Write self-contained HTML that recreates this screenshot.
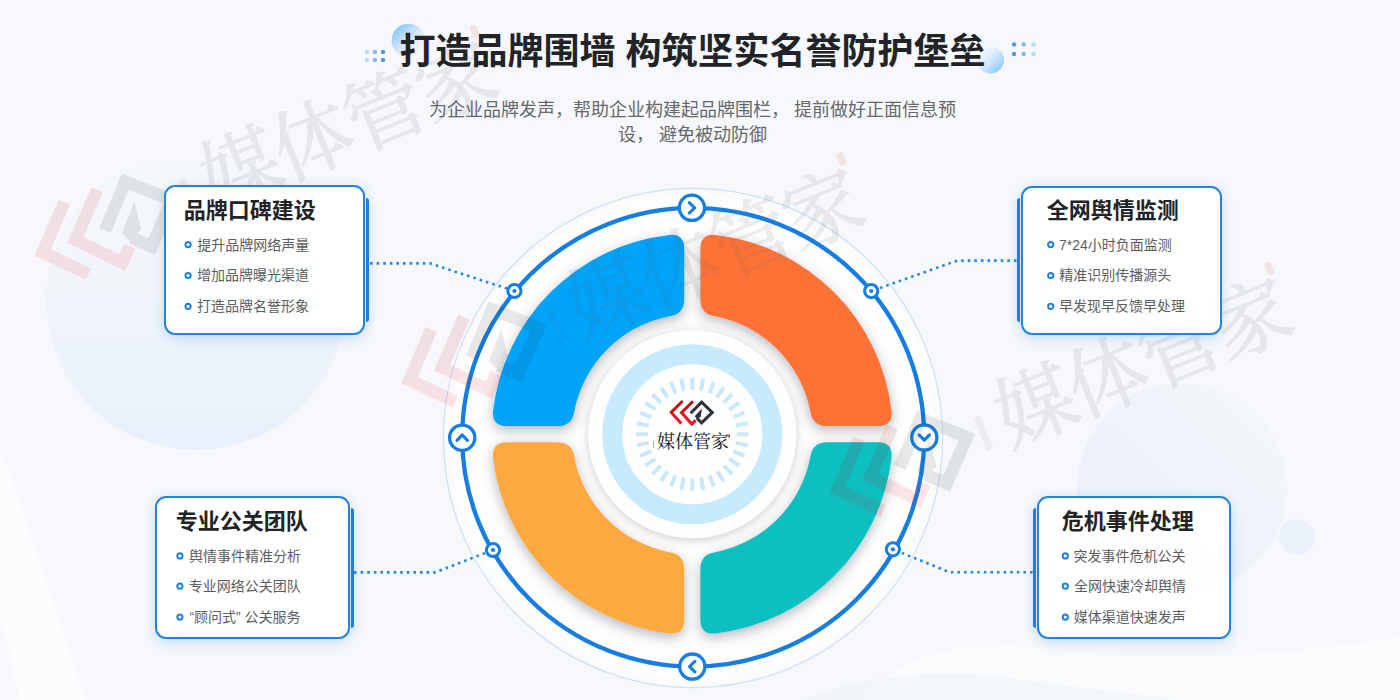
<!DOCTYPE html>
<html lang="zh-CN">
<head>
<meta charset="utf-8">
<title>打造品牌围墙 构筑坚实名誉防护堡垒</title>
<style>
html,body{margin:0;padding:0;background:#f6f8fb;}
body{width:1400px;height:700px;overflow:hidden;font-family:"Liberation Sans","Noto Sans CJK SC",sans-serif;}
#stage{position:relative;width:1400px;height:700px;overflow:hidden;background:#f6f8fb;}
#stage>svg{position:absolute;left:0;top:0;display:block;}
.card{position:absolute;box-sizing:border-box;margin:0;background:rgba(255,255,255,.93);border:2px solid #2484db;border-radius:11px;box-shadow:0 5px 14px rgba(60,130,220,.16),0 0 10px rgba(90,150,230,.10);}
.strip{position:absolute;background:#1c7fe0;box-shadow:0 3px 8px rgba(40,110,210,.22);}
.strip.r{border-radius:0 3px 3px 0;}
.strip.l{border-radius:3px 0 0 3px;}
.t{position:absolute;margin:0;padding:0;color:#5c5d60;white-space:nowrap;overflow:hidden;font-family:"Liberation Sans","Noto Sans CJK SC",sans-serif;}
h1.t,h3.t{color:#222327;}
p.t{color:#66686c;}
.t.logo{color:#15171a;font-family:"Liberation Serif","Noto Serif CJK SC",serif;}
.t.c{text-align:center;}
p.t.c{white-space:normal;}
.card ul{list-style:none;margin:0;padding:0;}
</style>
</head>
<body>
<div id="stage">
<svg id="art" width="1400" height="700" viewBox="0 0 1400 700">
<defs>
<linearGradient id="gL" x1="0" y1="0" x2="0" y2="1"><stop offset="0" stop-color="#e9f1fb" stop-opacity="0"/><stop offset=".45" stop-color="#e9f1fb" stop-opacity=".35"/><stop offset="1" stop-color="#e7f0fb"/></linearGradient>
<linearGradient id="gR" x1="1" y1="0" x2="0" y2="1"><stop offset="0" stop-color="#edf2fa" stop-opacity=".2"/><stop offset="1" stop-color="#e8effa"/></linearGradient>
<linearGradient id="gTL" x1="0.15" y1="0.15" x2="0.85" y2="0.85"><stop offset="0" stop-color="#8fc8f8"/><stop offset="1" stop-color="#e8f3fd" stop-opacity=".3"/></linearGradient>
<linearGradient id="gTR" x1="0.15" y1="0.15" x2="0.85" y2="0.85"><stop offset="0" stop-color="#f4f9fe" stop-opacity=".5"/><stop offset="1" stop-color="#93cbf8"/></linearGradient>
<radialGradient id="gDisc" cx=".5" cy=".5" r=".5"><stop offset="0" stop-color="#ffffff"/><stop offset=".93" stop-color="#ffffff"/><stop offset="1" stop-color="#ffffff" stop-opacity="0"/></radialGradient>
<radialGradient id="gHub" cx=".5" cy=".5" r=".5"><stop offset="0" stop-color="#ffffff"/><stop offset=".84" stop-color="#fdfdfe"/><stop offset=".94" stop-color="#eef0f3"/><stop offset="1" stop-color="#e2e5ea"/></radialGradient>
<linearGradient id="gRed" x1="0" y1="0" x2="0" y2="1"><stop offset="0" stop-color="#b51319"/><stop offset=".5" stop-color="#c8141c"/><stop offset=".5" stop-color="#e3121f"/><stop offset="1" stop-color="#ee1624"/></linearGradient>
<filter id="segShadow" x="-20%" y="-20%" width="140%" height="140%"><feDropShadow dx="0" dy="4" stdDeviation="6.5" flood-color="#4a5260" flood-opacity=".42"/></filter><filter id="hubShadow" x="-20%" y="-20%" width="140%" height="140%"><feDropShadow dx="0" dy="2" stdDeviation="5" flood-color="#4a5260" flood-opacity=".30"/></filter>
<symbol id="logo" viewBox="0 0 48 28" overflow="visible">
<g fill="none" stroke-width="3" stroke-linecap="butt" stroke-linejoin="miter">
<path d="M15.4 2.6L3.9 14L14 25" stroke="url(#gRed)"/>
<path d="M25.7 2.9L14.2 14.2L24.5 25.6L28.4 21.9" stroke="url(#gRed)"/>
<path d="M23.3 14.9L34.3 3.8L45 14L34.3 24.4L29.7 19.8" stroke="#2c3238"/>
</g>
<path d="M34.6 10.2L33.4 18.6L29 20.4L27.6 17.6Z" fill="#2c3238"/>
</symbol><symbol id="logoW" viewBox="0 0 48 28" overflow="visible">
<g fill="none" stroke-width="3.7" stroke-linecap="butt" stroke-linejoin="miter">
<path d="M15.4 2.6L3.9 14L14 25" stroke="url(#gRed)"/>
<path d="M25.7 2.9L14.2 14.2L24.5 25.6L28.4 21.9" stroke="url(#gRed)"/>
<path d="M23.3 14.9L34.3 3.8L45 14L34.3 24.4L29.7 19.8" stroke="#2c3238"/>
</g>
<path d="M34.6 10.2L33.4 18.6L29 20.4L27.6 17.6Z" fill="#2c3238"/>
</symbol></defs>

<circle cx="196" cy="300" r="150" fill="url(#gL)"/>
<circle cx="1182" cy="488" r="105" fill="url(#gR)"/>
<circle cx="1297" cy="537" r="18" fill="#ebf1fa"/>
<path d="M-30 370 C 10 470, 50 590, 95 730 L 25 730 C 10 640, -10 580, -30 520 Z" fill="#ffffff" opacity=".5"/>
<path d="M860 700 C 900 655, 960 640, 1040 648 C 1140 660, 1260 662, 1400 636 V700 Z" fill="#ffffff" opacity=".4"/>
<path d="M800 700 C 860 676, 930 668, 1010 678 C 1080 688, 1130 694, 1180 700 Z" fill="#eef3fa" opacity=".55"/>

<circle cx="408.3" cy="40.4" r="16.7" fill="url(#gTL)"/>
<circle cx="990.5" cy="60" r="13.5" fill="url(#gTR)"/>
<circle cx="366.9" cy="52" r="2.2" fill="#bcd8f4"/>
<circle cx="366.9" cy="59.9" r="2.2" fill="#bcd8f4"/>
<circle cx="374.9" cy="52" r="2.2" fill="#7fb8ea"/>
<circle cx="374.9" cy="59.9" r="2.2" fill="#7fb8ea"/>
<circle cx="383" cy="52" r="2.2" fill="#4c9be0"/>
<circle cx="383" cy="59.9" r="2.2" fill="#4c9be0"/>
<circle cx="1014" cy="44.4" r="2.2" fill="#4c9be0"/>
<circle cx="1014" cy="54" r="2.2" fill="#4c9be0"/>
<circle cx="1023.7" cy="44.4" r="2.2" fill="#7fb8ea"/>
<circle cx="1023.7" cy="54" r="2.2" fill="#7fb8ea"/>
<circle cx="1033.5" cy="44.4" r="2.2" fill="#bcd8f4"/>
<circle cx="1033.5" cy="54" r="2.2" fill="#bcd8f4"/>
<circle cx="693" cy="438" r="249.6" fill="#fafbfd" stroke="#cde0f6" stroke-width="1.2"/>
<circle cx="692.7" cy="437.2" r="243" fill="#fdfdfe"/>
<circle cx="692.7" cy="437.2" r="226" fill="url(#gDisc)"/>
<g filter="url(#segShadow)"><path d="M684.2 248.76 Q684.2 233.76 669.25 234.93 A200.6 200.6 0 0 0 493.03 411.15 Q491.86 426.1 506.86 426.1 L557.37 426.1 Q572.37 426.1 574.31 411.24 A120.2 120.2 0 0 1 669.34 316.21 Q684.2 314.27 684.2 299.27 Z" fill="#03a3fa"/><path d="M700.4 248.76 Q700.4 233.76 715.35 234.93 A200.6 200.6 0 0 1 891.57 411.15 Q892.74 426.1 877.74 426.1 L827.23 426.1 Q812.23 426.1 810.29 411.24 A120.2 120.2 0 0 0 715.26 316.21 Q700.4 314.27 700.4 299.27 Z" fill="#ff7236"/><path d="M684.2 619.64 Q684.2 634.64 669.25 633.47 A200.6 200.6 0 0 1 493.03 457.25 Q491.86 442.3 506.86 442.3 L557.37 442.3 Q572.37 442.3 574.31 457.16 A120.2 120.2 0 0 0 669.34 552.19 Q684.2 554.13 684.2 569.13 Z" fill="#fea93f"/><path d="M700.4 619.64 Q700.4 634.64 715.35 633.47 A200.6 200.6 0 0 0 891.57 457.25 Q892.74 442.3 877.74 442.3 L827.23 442.3 Q812.23 442.3 810.29 457.16 A120.2 120.2 0 0 1 715.26 552.19 Q700.4 554.13 700.4 569.13 Z" fill="#08bfc1"/></g>
<circle cx="692.3" cy="434.2" r="104" fill="#fefefe" filter="url(#hubShadow)"/>
<circle cx="692.3" cy="434.2" r="80" fill="none" stroke="#c7eafe" stroke-width="20"/>
<path d="M736.7 434.2L748.7 434.2M735.85 442.86L747.62 445.2M733.32 451.19L744.41 455.78M729.22 458.87L739.19 465.53M723.7 465.6L732.18 474.08M716.97 471.12L723.63 481.09M709.29 475.22L713.88 486.31M700.96 477.75L703.3 489.52M692.3 478.6L692.3 490.6M683.64 477.75L681.3 489.52M675.31 475.22L670.72 486.31M667.63 471.12L660.97 481.09M660.9 465.6L652.42 474.08M655.38 458.87L645.41 465.53M651.28 451.19L640.19 455.78M648.75 442.86L636.98 445.2M647.9 434.2L635.9 434.2M648.75 425.54L636.98 423.2M651.28 417.21L640.19 412.62M655.38 409.53L645.41 402.87M660.9 402.8L652.42 394.32M667.63 397.28L660.97 387.31M675.31 393.18L670.72 382.09M683.64 390.65L681.3 378.88M692.3 389.8L692.3 377.8M700.96 390.65L703.3 378.88M709.29 393.18L713.88 382.09M716.97 397.28L723.63 387.31M723.7 402.8L732.18 394.32M729.22 409.53L739.19 402.87M733.32 417.21L744.41 412.62M735.85 425.54L747.62 423.2" stroke="#c9e8fd" stroke-width="4" fill="none"/>
<ellipse cx="693.2" cy="437.2" rx="231" ry="229.4" fill="none" stroke="#167de2" stroke-width="4.3"/>
<path d="M370 263.4 H430 L514.4 291" fill="none" stroke="#2388e4" stroke-width="2.6" stroke-dasharray="2.6 4"/>
<path d="M1016.5 260.6 H957.3 L871.2 291.1" fill="none" stroke="#2388e4" stroke-width="2.6" stroke-dasharray="2.6 4"/>
<path d="M354 572.4 H435 L493 550" fill="none" stroke="#2388e4" stroke-width="2.6" stroke-dasharray="2.6 4"/>
<path d="M1032.6 572.3 H949.7 L892.9 549.3" fill="none" stroke="#2388e4" stroke-width="2.6" stroke-dasharray="2.6 4"/>
<circle cx="514.4" cy="291" r="6.6" fill="#fff" stroke="#167de2" stroke-width="3"/><circle cx="514.4" cy="291" r="2.1" fill="#167de2"/>
<circle cx="871.2" cy="291.1" r="6.6" fill="#fff" stroke="#167de2" stroke-width="3"/><circle cx="871.2" cy="291.1" r="2.1" fill="#167de2"/>
<circle cx="493" cy="550" r="6.6" fill="#fff" stroke="#167de2" stroke-width="3"/><circle cx="493" cy="550" r="2.1" fill="#167de2"/>
<circle cx="892.9" cy="549.3" r="6.6" fill="#fff" stroke="#167de2" stroke-width="3"/><circle cx="892.9" cy="549.3" r="2.1" fill="#167de2"/>
<g transform="translate(691.9 207.8) rotate(0)"><circle r="12.6" fill="#fff" stroke="#167de2" stroke-width="3.3"/><path d="M-2.6 -5.2L2.8 0L-2.6 5.2" fill="none" stroke="#167de2" stroke-width="3.1" stroke-linecap="round" stroke-linejoin="round"/></g>
<g transform="translate(924.3 437.4) rotate(90)"><circle r="12.6" fill="#fff" stroke="#167de2" stroke-width="3.3"/><path d="M-2.6 -5.2L2.8 0L-2.6 5.2" fill="none" stroke="#167de2" stroke-width="3.1" stroke-linecap="round" stroke-linejoin="round"/></g>
<g transform="translate(692.3 666.6) rotate(180)"><circle r="12.6" fill="#fff" stroke="#167de2" stroke-width="3.3"/><path d="M-2.6 -5.2L2.8 0L-2.6 5.2" fill="none" stroke="#167de2" stroke-width="3.1" stroke-linecap="round" stroke-linejoin="round"/></g>
<g transform="translate(462.2 437.7) rotate(270)"><circle r="12.6" fill="#fff" stroke="#167de2" stroke-width="3.3"/><path d="M-2.6 -5.2L2.8 0L-2.6 5.2" fill="none" stroke="#167de2" stroke-width="3.1" stroke-linecap="round" stroke-linejoin="round"/></g>
<use href="#logo" x="667.3" y="398.4" width="48" height="28"/>
<rect x="728.3" y="434.3" width="1.6" height="3.2" fill="#d8302a"/><rect x="653" y="441" width="1" height="7" fill="#555" opacity=".5"/>
<g transform="translate(104 226) rotate(-22) scale(1)"><g opacity=".10"><use href="#logoW" x="-80" y="-46" width="163" height="95"/></g><g opacity=".105" stroke="#5d6268" stroke-width="1.1" stroke-linejoin="round"><text x="108" y="27" font-size="80" letter-spacing="-2.5" fill="#5d6268" font-family="'Liberation Serif','Noto Serif CJK SC',serif">媒体管家</text></g><rect x="86" y="-14" width="7" height="36" fill="#5d6268" opacity=".07"/><rect x="413" y="-48" width="7" height="13" rx="2" fill="#d8302a" opacity=".10"/></g><g transform="translate(470.8 353.6) rotate(-22) scale(1)"><g opacity=".10"><use href="#logoW" x="-80" y="-46" width="163" height="95"/></g><g opacity=".105" stroke="#5d6268" stroke-width="1.1" stroke-linejoin="round"><text x="108" y="27" font-size="80" letter-spacing="-2.5" fill="#5d6268" font-family="'Liberation Serif','Noto Serif CJK SC',serif">媒体管家</text></g><rect x="86" y="-14" width="7" height="36" fill="#5d6268" opacity=".07"/><rect x="413" y="-48" width="7" height="13" rx="2" fill="#d8302a" opacity=".10"/></g><g transform="translate(899 463) rotate(-22) scale(1)"><g opacity=".10"><use href="#logoW" x="-80" y="-46" width="163" height="95"/></g><g opacity=".105" stroke="#5d6268" stroke-width="1.1" stroke-linejoin="round"><text x="108" y="27" font-size="80" letter-spacing="-2.5" fill="#5d6268" font-family="'Liberation Serif','Noto Serif CJK SC',serif">媒体管家</text></g><rect x="86" y="-14" width="7" height="36" fill="#5d6268" opacity=".07"/><rect x="413" y="-48" width="7" height="13" rx="2" fill="#d8302a" opacity=".10"/></g>
</svg>
<div class="strip r" style="left:366.1px;top:198.3px;width:3.2px;height:123.5px"></div>
<section class="card" style="left:163.6px;top:185.4px;width:201.2px;height:149.2px"><h3 class="t" style="left:18.06px;top:8.8px;width:140px;height:30px;font-size:22px;line-height:30px;font-weight:700">品牌口碑建设</h3><ul><li class="t" style="left:31.59px;top:47.2px;width:150px;height:20px;font-size:14px;line-height:20px;font-weight:400">提升品牌网络声量</li><li class="t" style="left:31.43px;top:78.1px;width:150px;height:20px;font-size:14px;line-height:20px;font-weight:400">增加品牌曝光渠道</li><li class="t" style="left:31.45px;top:108.9px;width:150px;height:20px;font-size:14px;line-height:20px;font-weight:400">打造品牌名誉形象</li></ul></section>
<div class="strip l" style="left:1016.9px;top:198.3px;width:3.2px;height:123.5px"></div>
<section class="card" style="left:1021.4px;top:185.6px;width:200.3px;height:149px"><h3 class="t" style="left:23.35px;top:8.6px;width:140px;height:30px;font-size:22px;line-height:30px;font-weight:700">全网舆情监测</h3><ul><li class="t" style="left:35.61px;top:47px;width:150px;height:20px;font-size:14px;line-height:20px;font-weight:400">7*24小时负面监测</li><li class="t" style="left:35.88px;top:77.9px;width:150px;height:20px;font-size:14px;line-height:20px;font-weight:400">精准识别传播源头</li><li class="t" style="left:35.64px;top:108.7px;width:150px;height:20px;font-size:14px;line-height:20px;font-weight:400">早发现早反馈早处理</li></ul></section>
<div class="strip r" style="left:350.9px;top:508.3px;width:3.2px;height:119.6px"></div>
<section class="card" style="left:155.4px;top:496.2px;width:194.2px;height:143.3px"><h3 class="t" style="left:18.3px;top:9.2px;width:140px;height:30px;font-size:22px;line-height:30px;font-weight:700">专业公关团队</h3><ul><li class="t" style="left:31.58px;top:47.7px;width:150px;height:20px;font-size:14px;line-height:20px;font-weight:400">舆情事件精准分析</li><li class="t" style="left:31.42px;top:78px;width:150px;height:20px;font-size:14px;line-height:20px;font-weight:400">专业网络公关团队</li><li class="t" style="left:32px;top:108.9px;width:150px;height:20px;font-size:14px;line-height:20px;font-weight:400">“顾问式” 公关服务</li></ul></section>
<div class="strip l" style="left:1032.5px;top:508.3px;width:3.2px;height:119.6px"></div>
<section class="card" style="left:1037px;top:496.2px;width:194.2px;height:143.3px"><h3 class="t" style="left:22.74px;top:9.2px;width:140px;height:30px;font-size:22px;line-height:30px;font-weight:700">危机事件处理</h3><ul><li class="t" style="left:34.53px;top:47.7px;width:150px;height:20px;font-size:14px;line-height:20px;font-weight:400">突发事件危机公关</li><li class="t" style="left:34.94px;top:78px;width:150px;height:20px;font-size:14px;line-height:20px;font-weight:400">全网快速冷却舆情</li><li class="t" style="left:34.82px;top:108.9px;width:150px;height:20px;font-size:14px;line-height:20px;font-weight:400">媒体渠道快速发声</li></ul></section>
<svg id="ink" width="1400" height="700" viewBox="0 0 1400 700">
<circle cx="188.1" cy="244.6" r="2.6" fill="#fff" stroke="#1f80dd" stroke-width="2"/><circle cx="188.1" cy="275.5" r="2.6" fill="#fff" stroke="#1f80dd" stroke-width="2"/><circle cx="188.1" cy="306.3" r="2.6" fill="#fff" stroke="#1f80dd" stroke-width="2"/><circle cx="1050.7" cy="244.6" r="2.6" fill="#fff" stroke="#1f80dd" stroke-width="2"/><circle cx="1050.7" cy="275.5" r="2.6" fill="#fff" stroke="#1f80dd" stroke-width="2"/><circle cx="1050.7" cy="306.3" r="2.6" fill="#fff" stroke="#1f80dd" stroke-width="2"/><circle cx="179.9" cy="555.9" r="2.6" fill="#fff" stroke="#1f80dd" stroke-width="2"/><circle cx="179.9" cy="586.2" r="2.6" fill="#fff" stroke="#1f80dd" stroke-width="2"/><circle cx="179.9" cy="617.1" r="2.6" fill="#fff" stroke="#1f80dd" stroke-width="2"/><circle cx="1065.3" cy="555.9" r="2.6" fill="#fff" stroke="#1f80dd" stroke-width="2"/><circle cx="1065.3" cy="586.2" r="2.6" fill="#fff" stroke="#1f80dd" stroke-width="2"/><circle cx="1065.3" cy="617.1" r="2.6" fill="#fff" stroke="#1f80dd" stroke-width="2"/>
</svg>
<h1 class="t c" style="left:380px;top:30px;width:625px;height:44px;font-size:36px;line-height:44px;font-weight:700">打造品牌围墙 构筑坚实名誉防护堡垒</h1>
<p class="t c" style="left:422px;top:98px;width:541px;height:52px;font-size:18px;line-height:25px;font-weight:400">为企业品牌发声，帮助企业构建起品牌围栏， 提前做好正面信息预设， 避免被动防御</p>
<div class="t c logo" style="left:652px;top:432px;width:82px;height:20px;font-size:18px;line-height:20px;font-weight:400">媒体管家</div>
</div>
</body>
</html>
